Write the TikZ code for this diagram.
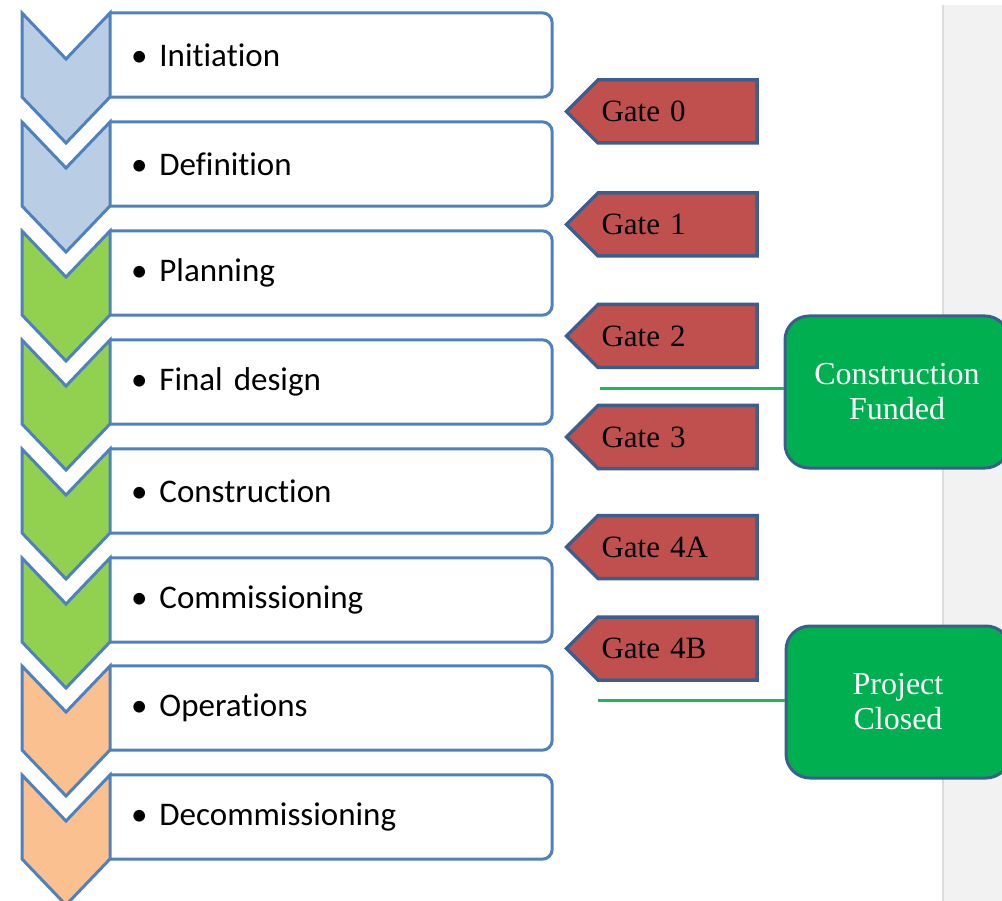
\documentclass[tikz,border=0pt]{standalone}
\usepackage{fontspec}
\newfontfamily\stagefont[Ligatures=NoCommon]{Carlito}
\newfontfamily\gatefont{Liberation Serif}
\usetikzlibrary{shapes.symbols}
\definecolor{chevblue}{HTML}{B9CDE5}
\definecolor{chevgreen}{HTML}{92D050}
\definecolor{chevorange}{HTML}{FAC090}
\definecolor{edgeblue}{HTML}{4F81BD}
\definecolor{gatered}{HTML}{C0504D}
\definecolor{gateedge}{HTML}{3B5E8C}
\definecolor{fundgreen}{HTML}{00B050}
\definecolor{linkgreen}{HTML}{1CB85A}
\definecolor{panelgray}{HTML}{F2F2F2}
\definecolor{paneledge}{HTML}{DDDDDD}
\begin{document}
\begin{tikzpicture}[x=1pt, y=-1pt,
    chevron/.style={draw=edgeblue, line width=3pt, line join=miter},
    stagebox/.style={minimum width=442pt, minimum height=84pt, text width=400pt,
      inner xsep=21pt, inner ysep=0pt, align=left,
      font=\stagefont\fontsize{33}{38}\selectfont},
    boxline/.style={draw=edgeblue, line width=3pt},
    gatebox/.style={signal, signal to=west, signal pointer angle=90,
      fill=gatered, draw=gateedge, line width=3.5pt, minimum height=63pt,
      text width=152pt, inner xsep=3.5pt, align=left,
      font=\gatefont\fontsize{31}{36}\selectfont},
    milestone/.style={draw=gateedge, line width=3pt, fill=fundgreen,
      rounded corners=24pt, minimum width=224pt, minimum height=152pt,
      align=center, text=white, font=\gatefont\fontsize{32}{35}\selectfont},
    link/.style={draw=linkgreen, line width=3pt}]
      \useasboundingbox (0,0) rectangle (1002,901);
      \clip (0,0) rectangle (1002,901);
      % side panel
      \fill[panelgray] (943,5) rectangle (1010,905);
      \draw[paneledge, line width=1.5pt] (943,5) -- (943,905);
      % stage boxes
      \node[stagebox] (init) at (331,55) {\textbullet\hspace{12pt}Initiation};
      \node[stagebox] (defn) at (331,164) {\textbullet\hspace{12pt}Definition};
      \node[stagebox] (plan) at (331,273) {\textbullet\hspace{12pt}Planning};
      \node[stagebox] (design) at (331,382) {\textbullet\hspace{12pt}Final design};
      \node[stagebox] (constr) at (331,491) {\textbullet\hspace{12pt}Construction};
      \node[stagebox] (comm) at (331,600) {\textbullet\hspace{12pt}Commissioning};
      \node[stagebox] (ops) at (331,708) {\textbullet\hspace{12pt}Operations};
      \node[stagebox] (decomm) at (331,817) {\textbullet\hspace{12pt}Decommissioning};
      \draw[boxline] (init.north west) [rounded corners=10pt] -- (init.north east) -- (init.south east) -- (init.south west);
      \draw[boxline] (defn.north west) [rounded corners=10pt] -- (defn.north east) -- (defn.south east) -- (defn.south west);
      \draw[boxline] (plan.north west) [rounded corners=10pt] -- (plan.north east) -- (plan.south east) -- (plan.south west);
      \draw[boxline] (design.north west) [rounded corners=10pt] -- (design.north east) -- (design.south east) -- (design.south west);
      \draw[boxline] (constr.north west) [rounded corners=10pt] -- (constr.north east) -- (constr.south east) -- (constr.south west);
      \draw[boxline] (comm.north west) [rounded corners=10pt] -- (comm.north east) -- (comm.south east) -- (comm.south west);
      \draw[boxline] (ops.north west) [rounded corners=10pt] -- (ops.north east) -- (ops.south east) -- (ops.south west);
      \draw[boxline] (decomm.north west) [rounded corners=10pt] -- (decomm.north east) -- (decomm.south east) -- (decomm.south west);
      % chevrons
      \filldraw[chevron, fill=chevblue] (22,13) -- (66,59) -- (110,13) -- (110,97) -- (66,143) -- (22,97) -- cycle;
      \filldraw[chevron, fill=chevblue] (22,122) -- (66,168) -- (110,122) -- (110,206) -- (66,252) -- (22,206) -- cycle;
      \filldraw[chevron, fill=chevgreen] (22,231) -- (66,277) -- (110,231) -- (110,315) -- (66,361) -- (22,315) -- cycle;
      \filldraw[chevron, fill=chevgreen] (22,340) -- (66,386) -- (110,340) -- (110,424) -- (66,470) -- (22,424) -- cycle;
      \filldraw[chevron, fill=chevgreen] (22,449) -- (66,495) -- (110,449) -- (110,533) -- (66,579) -- (22,533) -- cycle;
      \filldraw[chevron, fill=chevgreen] (22,558) -- (66,604) -- (110,558) -- (110,642) -- (66,688) -- (22,642) -- cycle;
      \filldraw[chevron, fill=chevorange] (22,666) -- (66,712) -- (110,666) -- (110,750) -- (66,796) -- (22,750) -- cycle;
      \filldraw[chevron, fill=chevorange] (22,775) -- (66,821) -- (110,775) -- (110,859) -- (66,905) -- (22,859) -- cycle;
      % gates
      \node[gatebox] (gate0) at (677.5,111.5) {Gate\hspace{10pt}0};
      \node[gatebox] (gate1) at (677.5,224.5) {Gate\hspace{10pt}1};
      \node[gatebox] (gate2) at (677.5,336) {Gate\hspace{10pt}2};
      \node[gatebox] (gate3) at (677.5,437) {Gate\hspace{10pt}3};
      \node[gatebox] (gate4a) at (677.5,547) {Gate\hspace{10pt}4A};
      \node[gatebox] (gate4b) at (677.5,648.5) {Gate\hspace{10pt}4B};
      % milestones
      \node[milestone] (funded) at (897,392) {Construction\\Funded};
      \node[milestone] (closed) at (898,702) {Project\\Closed};
      \coordinate (fundend) at (600,389);
      \coordinate (closeend) at (598,700);
      \draw[link] (fundend) -- (fundend -| funded.west);
      \draw[link] (closeend) -- (closeend -| closed.west);
    \end{tikzpicture}
\end{document}
